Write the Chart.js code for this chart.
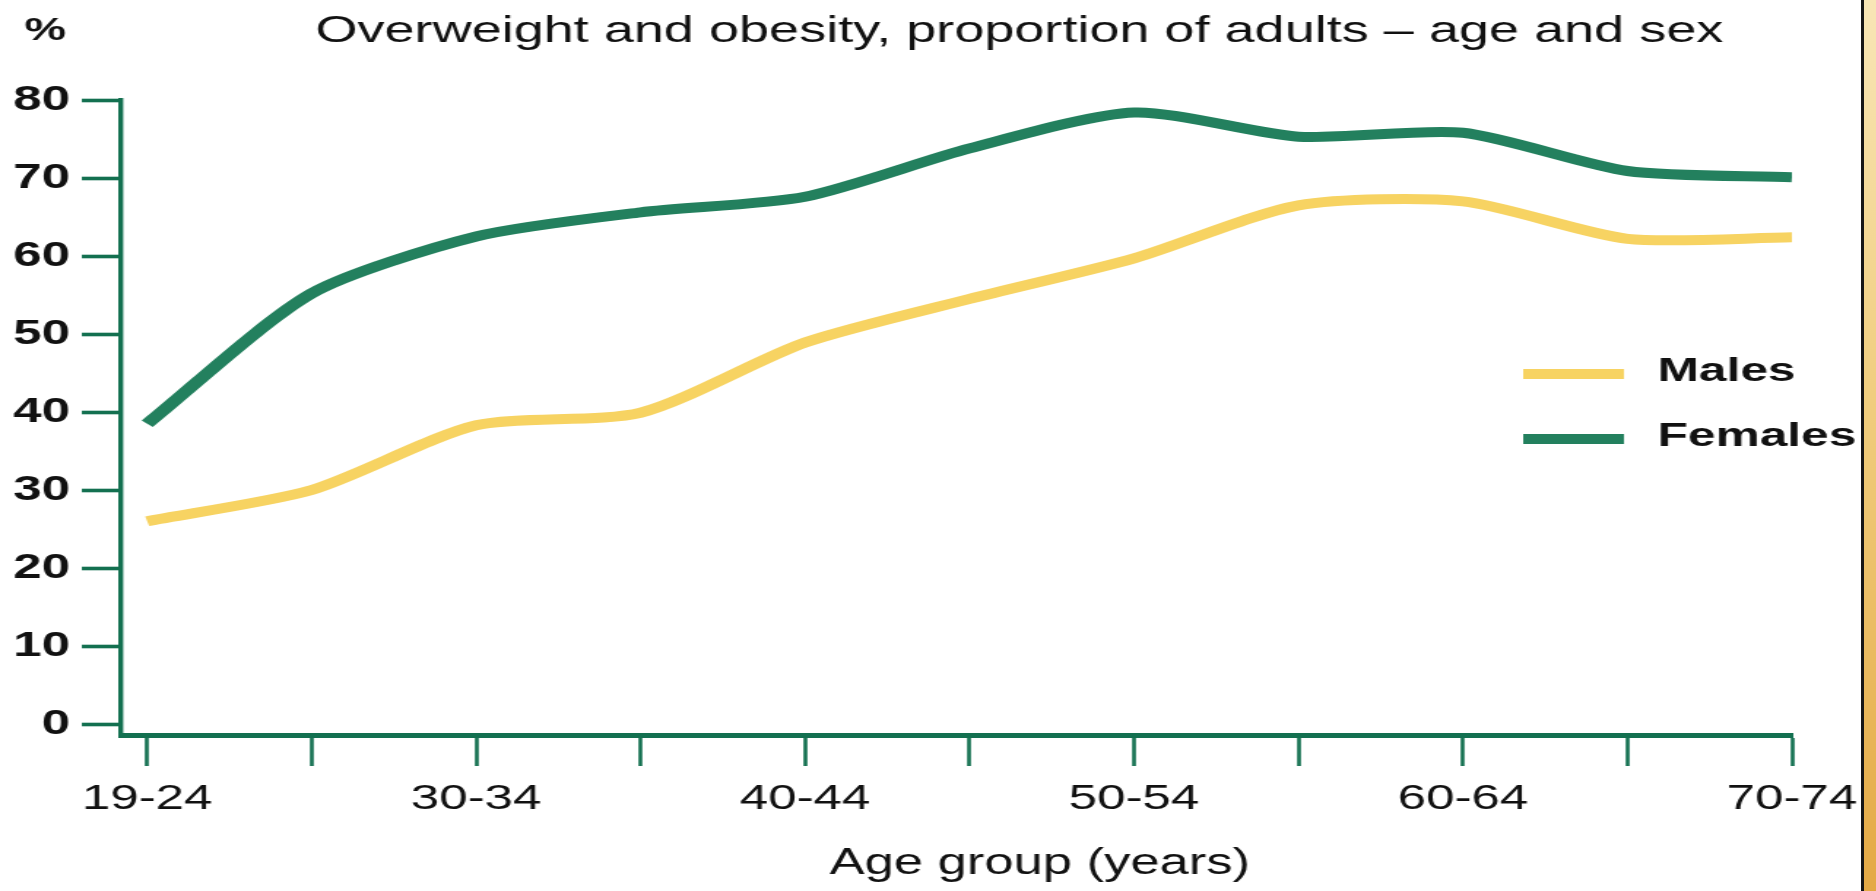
<!DOCTYPE html>
<html>
<head>
<meta charset="utf-8">
<script src="https://cdn.jsdelivr.net/npm/chart.js@4.4.1/dist/chart.umd.min.js"></script>
<style>
  body { margin: 0; background: #fff; overflow: hidden; }
  #wrap { position: relative; width: 1876px; height: 891px; }
  #chart { position: absolute; left: 0; top: 0; }
  #edge {
    position: absolute; left: 1861px; top: 0; width: 12px; height: 891px;
    border-left: 3px solid #161616;
    background: linear-gradient(to bottom, #f8e6b6, #f0cd7e 45%, #e4a945);
  }
</style>
</head>
<body>
<div id="wrap">
  <!-- source picture is stretched sideways, so the canvas is too -->
  <canvas id="chart" width="1275" height="891" style="width:1862px;height:891px;display:block"></canvas>
  <div id="edge"></div>
</div>
<script>
const ageGroups = ["19-24", "25-29", "30-34", "35-39", "40-44", "45-49",
                   "50-54", "55-59", "60-64", "65-69", "70-74"];
const males   = [26, 30, 38.3, 39.9, 48.9, 54.5, 59.7, 66.5, 67, 62.2, 62.4];
const females = [38.5, 55.2, 62.5, 65.6, 67.6, 73.8, 78.4, 75.3, 75.8, 70.9, 70.1];
const yTicks  = [0, 10, 20, 30, 40, 50, 60, 70, 80];

const FONT = '"Liberation Sans", Arial, Helvetica, sans-serif';
const axisGreen = "#137050";
const lineGreen = "#23805e";
const lineYellow = "#f7d362";

function toPoints(values) {
  return values.map((v, i) => ({ x: i, y: v }));
}

const textPlugin = {
  id: "texts",
  afterDraw(chart) {
    const ctx = chart.ctx;
    ctx.save();
    ctx.fillStyle = "#111";
    ctx.textBaseline = "middle";

    ctx.textAlign = "center";
    ctx.font = "37px " + FONT;
    ctx.fillText("Overweight and obesity, proportion of adults \u2013 age and sex", 698, 32);
    ctx.font = "36px " + FONT;
    ctx.fillText("Age group (years)", 712, 864);

    ctx.font = "bold 32px " + FONT;
    ctx.fillText("%", 31, 31);

    // legend
    ctx.textAlign = "left";
    ctx.font = "bold 34px " + FONT;
    const rows = [374, 439];
    chart.data.datasets.forEach((ds, i) => {
      ctx.strokeStyle = ds.borderColor;
      ctx.lineWidth = 10;
      ctx.beginPath();
      ctx.moveTo(1043, rows[i]);
      ctx.lineTo(1112, rows[i]);
      ctx.stroke();
      ctx.fillText(ds.label, 1135, rows[i] - 2);
    });
    ctx.restore();
  }
};

new Chart(document.getElementById("chart"), {
  type: "line",
  data: {
    datasets: [
      {
        label: "Males",
        data: toPoints(males),
        borderColor: lineYellow,
        borderWidth: 10,
        tension: 0.25,
        pointRadius: 0,
        fill: false,
      },
      {
        label: "Females",
        data: toPoints(females),
        borderColor: lineGreen,
        borderWidth: 10,
        tension: 0.25,
        pointRadius: 0,
        fill: false,
      },
    ],
  },
  options: {
    responsive: false,
    animation: false,
    layout: { padding: { top: 100, right: 48, left: 0, bottom: 0 } },
    plugins: {
      legend: { display: false },
      title: { display: false },
      tooltip: { enabled: false },
    },
    scales: {
      x: {
        type: "linear",
        min: -0.158,
        max: ageGroups.length - 1,
        afterFit: (scale) => {
          scale.height = 156;
          scale.paddingLeft = 0;
          scale.paddingRight = 0;
        },
        border: { display: true, color: axisGreen, width: 5 },
        grid: {
          drawOnChartArea: false,
          drawTicks: true,
          tickLength: 31,
          tickWidth: 2.6,
          tickColor: axisGreen,
        },
        ticks: {
          stepSize: 1,
          autoSkip: false,
          includeBounds: false,
          maxRotation: 0,
          padding: 12,
          color: "#111",
          font: { family: FONT, size: 35 },
          callback: (v) => (v % 2 === 0 ? ageGroups[v] : ""),
        },
      },
      y: {
        min: -1.41,
        max: 80,
        afterFit: (scale) => {
          scale.width = 83;
          scale.paddingTop = 0;
          scale.paddingBottom = 0;
        },
        afterBuildTicks: (scale) => {
          scale.ticks = yTicks.map((v) => ({ value: v }));
        },
        border: { display: true, color: axisGreen, width: 3.4 },
        grid: {
          drawOnChartArea: false,
          drawTicks: true,
          tickLength: 27,
          tickWidth: 3.6,
          tickColor: axisGreen,
        },
        ticks: {
          padding: 8,
          color: "#111",
          font: { family: FONT, size: 35, weight: "bold" },
        },
      },
    },
  },
  plugins: [textPlugin],
});
</script>
</body>
</html>
